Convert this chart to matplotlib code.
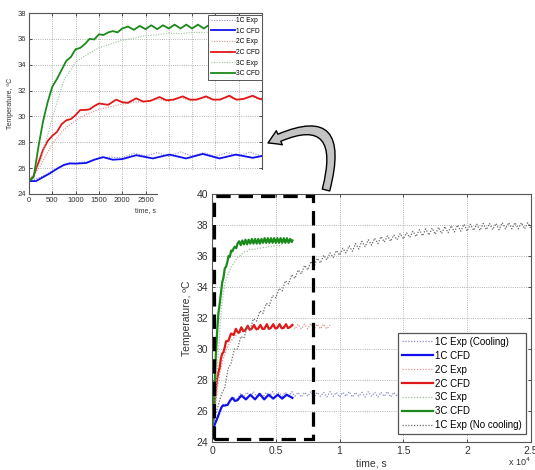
import numpy as np
import matplotlib.pyplot as plt
from matplotlib.patches import Rectangle, FancyArrowPatch

plt.rcParams['font.family'] = ['Liberation Sans', 'DejaVu Sans']

# ---------------- data (time in s, temperature in degC) ----------------
# CFD results
t_1c_cfd = [0, 150, 300, 450, 600, 750, 870, 1000, 1230, 1400, 1590, 1800, 2000, 2300,
            2660, 3010, 3370, 3730, 4090, 4440, 4800, 5150, 5500, 5850, 6300]
T_1c_cfd = [25.0, 25.0, 25.3, 25.6, 25.95, 26.25, 26.37, 26.35, 26.4, 26.65, 26.85, 26.65,
            26.7, 27.0, 26.75, 27.05, 26.75, 27.1, 26.75, 27.05, 26.8, 27.05, 26.8, 27.05, 26.85]

t_2c_cfd = [0, 100, 200, 300, 400, 500, 600, 700, 800, 900, 1000, 1100, 1200, 1300, 1400,
            1500, 1600, 1700, 1870, 2000, 2120, 2300, 2450, 2600, 2800, 2950, 3100, 3300,
            3450, 3600, 3800, 3950, 4100, 4300, 4450, 4600, 4800, 4950, 5100, 5300, 5450,
            5600, 5800, 5950, 6100, 6300]
T_2c_cfd = [25.0, 25.4, 26.4, 27.4, 28.1, 28.5, 28.8, 29.4, 29.7, 29.8, 30.1, 30.5, 30.5,
            30.55, 30.8, 31.0, 30.95, 30.9, 31.3, 31.1, 31.05, 31.4, 31.15, 31.2, 31.5, 31.25,
            31.3, 31.55, 31.3, 31.3, 31.55, 31.3, 31.3, 31.6, 31.3, 31.35, 31.6, 31.35, 31.35,
            31.6, 31.35, 31.35, 31.6, 31.35, 31.4, 31.55]

t_3c_cfd = [0, 100, 200, 300, 400, 500, 600, 700, 800, 900, 1000, 1100, 1200, 1300, 1400,
            1500, 1600, 1700, 1800, 1900, 2000, 2125, 2250, 2375, 2500, 2625, 2750, 2875,
            3000, 3125, 3250, 3375, 3500, 3625, 3750, 3875, 4000, 4125, 4250, 4375, 4500,
            4625, 4750, 4875, 5000, 5125, 5250, 5375, 5500, 5625, 5750, 5875, 6000, 6125,
            6250, 6300]
T_3c_cfd = [25.0, 25.3, 27.6, 29.6, 31.1, 32.3, 32.9, 33.6, 34.3, 34.6, 35.2, 35.3, 35.6,
            36.0, 35.95, 36.35, 36.3, 36.5, 36.6, 36.5, 36.8, 36.95, 36.7, 37.0, 36.75,
            37.05, 36.75, 37.05, 36.8, 37.1, 36.8, 37.1, 36.8, 37.1, 36.8, 37.1, 36.85,
            37.15, 36.85, 37.15, 36.85, 37.15, 36.85, 37.15, 36.85, 37.15, 36.85, 37.15,
            36.85, 37.15, 36.85, 37.15, 36.85, 37.1, 36.9, 37.0]

# experiments, sampled every 250 s
step_exp = 250
T_1c_exp = [25.0, 25.3, 25.8, 26.2, 26.4, 26.5, 26.8, 26.85, 26.8, 27.15, 26.95,
            27.2, 26.9, 27.25, 26.95, 27.2, 26.9, 27.2, 26.95, 27.25, 26.9, 27.2, 26.95,
            27.2, 26.9, 27.25, 26.95, 27.2, 26.9, 27.2, 26.95, 27.25, 26.9, 27.2, 26.95,
            27.2, 26.9, 27.25, 26.95, 27.2, 26.9, 27.2, 26.95, 27.25, 26.9, 27.2, 26.95,
            27.2, 26.9, 27.25, 26.95, 27.2, 26.9, 27.2, 26.95, 27.25, 26.9, 27.2, 26.95,
            27.2, 26.9, 27.25, 26.95, 27.2, 26.9]
T_2c_exp = [25.0, 26.2, 27.9, 29.0, 29.7, 30.2, 30.55, 30.75, 30.95, 31.1, 31.15, 31.35,
            31.15, 31.45, 31.2, 31.5, 31.25, 31.5, 31.25, 31.55, 31.25, 31.55, 31.3, 31.55,
            31.3, 31.6, 31.3, 31.6, 31.3, 31.6, 31.3, 31.65, 31.3, 31.6, 31.3, 31.6, 31.3,
            31.55]
T_3c_exp = [25.0, 26.5, 29.9, 32.8, 34.2, 34.8, 35.3, 35.6, 35.9, 36.05, 36.25, 36.3,
            36.45, 36.4, 36.5, 36.5, 36.55, 36.55, 36.65, 36.6, 36.7, 36.65, 36.75]
T_1c_nocool = [25.0, 25.7, 26.4, 27.1, 27.5, 28.7, 29.1, 30.0, 30.0, 30.8, 30.7, 31.4,
               31.3, 31.95, 31.8, 32.45, 32.3, 32.95, 32.8, 33.45, 33.3, 33.9, 33.75, 34.4,
               34.2, 34.8, 34.55, 35.1, 34.85, 35.4, 35.1, 35.65, 35.35, 35.85, 35.55, 36.05,
               35.75, 36.2, 35.9, 36.35, 36.05, 36.5, 36.2, 36.65, 36.3, 36.8, 36.45, 36.95,
               36.6, 37.05, 36.7, 37.15, 36.8, 37.25, 36.9, 37.3, 36.95, 37.35, 37.05, 37.45,
               37.1, 37.5, 37.2, 37.6, 37.25, 37.7, 37.3, 37.75, 37.35, 37.8, 37.4, 37.85,
               37.45, 37.9, 37.5, 37.95, 37.55, 38.0, 37.6, 38.05, 37.6, 38.05, 37.65, 38.05,
               37.65, 38.1, 37.7, 38.1, 37.7, 38.1, 37.7, 38.15, 37.75, 38.15, 37.75, 38.15,
               37.75, 38.15, 37.75, 38.15, 37.75]

t_1c_exp = np.arange(len(T_1c_exp)) * step_exp
t_2c_exp = np.arange(len(T_2c_exp)) * step_exp
t_3c_exp = np.arange(len(T_3c_exp)) * step_exp
t_1c_nocool = np.arange(len(T_1c_nocool)) * step_exp

main_xticks = [0, 5000, 10000, 15000, 20000, 25000]
main_xticklabels = ['0', '0.5', '1', '1.5', '2', '2.5']
yticks_main = list(range(24, 41, 2))
inset_xticks = list(range(0, 5001, 500))
# labels past 2500 are hidden under the main chart in the original
inset_xticklabels = ['0', '500', '1000', '1500', '2000', '2500', '', '', '', '', '']
yticks_inset = list(range(24, 39, 2))

# colours
c_blue, c_red, c_green = '#1010f0', '#e01818', '#1a8a1a'
c_blue_exp, c_red_exp, c_green_exp, c_grey = '#8c8cd0', '#e09090', '#a0c0a0', '#6a6a6a'
dots = (0, (1, 1.3))

W, H = 535, 470
fig = plt.figure(figsize=(W / 100, H / 100), dpi=100)


def style_axes(ax, fs):
    ax.tick_params(direction='in', top=True, right=True, labelsize=fs, length=2.5,
                   width=0.6, pad=2, colors='#333333')
    for s in ax.spines.values():
        s.set_color('#555555')
        s.set_linewidth(0.8)
    ax.grid(True, linestyle=':', color='#9a9a9a', linewidth=0.6)
    ax.set_axisbelow(True)


# ---------------- inset (top left) ----------------
ax_in = fig.add_axes([29 / W, 1 - 194 / H, 233 / W, 181 / H])
ax_in.plot(t_1c_exp, T_1c_exp, color=c_blue_exp, ls=dots, lw=0.8, label='1C Exp')
ax_in.plot(t_1c_cfd, T_1c_cfd, color=c_blue, lw=1.3, label='1C CFD')
ax_in.plot(t_2c_exp, T_2c_exp, color=c_red_exp, ls=dots, lw=0.8, label='2C Exp')
ax_in.plot(t_2c_cfd, T_2c_cfd, color=c_red, lw=1.3, label='2C CFD')
ax_in.plot(t_3c_exp, T_3c_exp, color=c_green_exp, ls=dots, lw=0.8, label='3C Exp')
ax_in.plot(t_3c_cfd, T_3c_cfd, color=c_green, lw=1.3, label='3C CFD')
ax_in.set_xlim(0, 5000)
ax_in.set_ylim(24, 38)
ax_in.set_xticks(inset_xticks)
ax_in.set_xticklabels(inset_xticklabels)
ax_in.set_yticks(yticks_inset)
style_axes(ax_in, 5.5)
ax_in.set_xlabel('time, s', fontsize=5, labelpad=2, color='#333333')
ax_in.set_ylabel('Temperature, \u00baC', fontsize=5, labelpad=3, color='#333333')
leg_in = ax_in.legend(loc='upper right', bbox_to_anchor=(1.0, 0.99), borderaxespad=0,
                      fontsize=4.8, handlelength=3.6, handletextpad=0.2, labelspacing=0.55,
                      borderpad=0.35, fancybox=False, framealpha=1, edgecolor='#555555')
leg_in.get_frame().set_linewidth(0.7)

# white background of the main chart, covering the inset corner
cover = Rectangle((158 / W, 0), 1 - 158 / W, 1 - 170 / H, transform=fig.transFigure,
                  facecolor='white', edgecolor='none', zorder=1)
fig.add_artist(cover)

# ---------------- main chart ----------------
ax = fig.add_axes([212 / W, 1 - 442 / H, 319 / W, 248 / H])
ax.set_zorder(2)
ax.plot(t_1c_exp, T_1c_exp, color=c_blue_exp, ls=dots, lw=0.9, label='1C Exp (Cooling)')
ax.plot(t_1c_cfd, T_1c_cfd, color=c_blue, lw=1.6, label='1C CFD')
ax.plot(t_2c_exp, T_2c_exp, color=c_red_exp, ls=dots, lw=0.9, label='2C Exp')
ax.plot(t_2c_cfd, T_2c_cfd, color=c_red, lw=1.6, label='2C CFD')
ax.plot(t_3c_exp, T_3c_exp, color=c_green_exp, ls=dots, lw=0.9, label='3C Exp')
ax.plot(t_3c_cfd, T_3c_cfd, color=c_green, lw=1.6, label='3C CFD')
ax.plot(t_1c_nocool, T_1c_nocool, color=c_grey, ls=dots, lw=0.9, label='1C Exp (No cooling)')
ax.set_xlim(0, 25000)
ax.set_ylim(24, 40)
ax.set_xticks(main_xticks)
ax.set_xticklabels(main_xticklabels)
ax.set_yticks(yticks_main)
style_axes(ax, 7.5)
ax.tick_params(pad=3)
ax.set_xlabel('time, s', fontsize=7.5, labelpad=2, color='#333333')
ax.set_ylabel('Temperature, \u00baC', fontsize=7.5, labelpad=3, color='#333333')
ax.text(1.0, -0.098, 'x 10$^4$', transform=ax.transAxes, ha='right', va='baseline',
        fontsize=6.5, color='#333333')

leg = ax.legend(loc='lower right', bbox_to_anchor=(0.984, 0.032), borderaxespad=0,
                fontsize=7, handlelength=3.2, handletextpad=0.2, labelspacing=0.4,
                borderpad=0.4, fancybox=False, framealpha=1, edgecolor='#555555')
leg.get_frame().set_linewidth(0.9)

# dashed box marking the zoomed-in region
ax.add_patch(Rectangle((150, 24.19), 7780, 15.66, fill=False, edgecolor='black',
                       lw=2.3, ls=(0, (4.5, 2.5)), clip_on=False, zorder=5))

# curved arrow from the main chart to the inset
arrow = FancyArrowPatch((326 / W, 1 - 190 / H), (268 / W, 1 - 143 / H),
                        transform=fig.transFigure, connectionstyle='arc3,rad=1.1',
                        arrowstyle='simple,head_length=9,head_width=11,tail_width=5.5',
                        facecolor='#c4c4c4', edgecolor='black', lw=1.0,
                        shrinkA=0, shrinkB=0, zorder=10)
fig.add_artist(arrow)

fig.savefig('out.png', dpi=100)
